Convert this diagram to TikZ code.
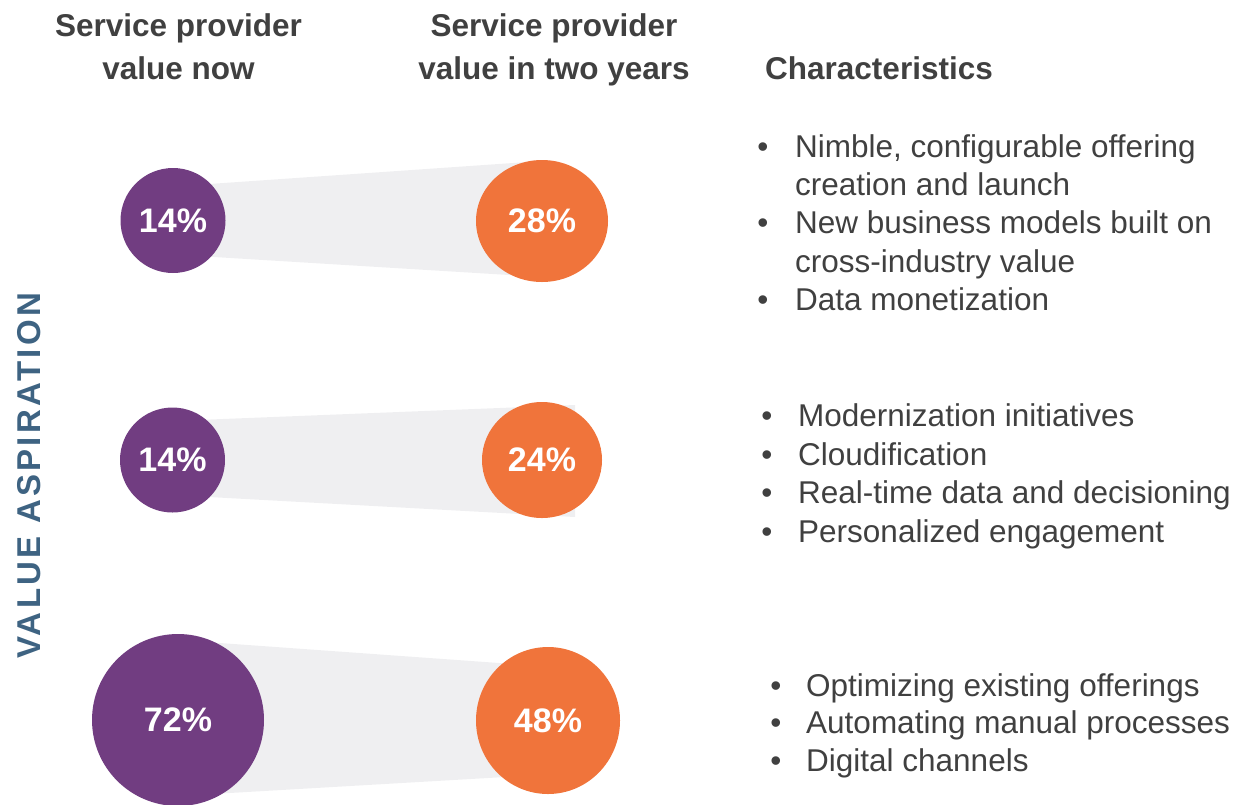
\documentclass[tikz,border=0pt]{standalone}
\usepackage{fontspec}
\setmainfont{Liberation Sans}
\newfontfamily\spacedfont[LetterSpace=10]{Liberation Sans}
\usepackage{tikz}
\usetikzlibrary{positioning,
                    backgrounds,
                    calc,
                    shapes.geometric}
\definecolor{nowpurple}{HTML}{713D81}
\definecolor{laterorange}{HTML}{F0743B}
\definecolor{bandgray}{HTML}{EFEFF1}
\definecolor{textgray}{HTML}{404040}
\definecolor{sideblue}{HTML}{3E6382}

\begin{document}
\begin{tikzpicture}[
            x=1pt,y=-1pt,
            now/.style={
              ellipse,
              fill=nowpurple,
              inner sep=0pt,
              text=white,
              font=\bfseries\fontsize{34}{40}\selectfont
            },
            later/.style={
              now,
              fill=laterorange
            },
            dims/.style 2 args={minimum width=#1,minimum height=#2},
            band/.style={fill=bandgray},
            head/.style={
              anchor=base,
              inner sep=0pt,
              text=textgray,
              font=\bfseries\fontsize{31.5}{38}\selectfont
            },
            item/.style={
              anchor=base west,
              inner sep=0pt,
              text=textgray,
              font=\fontsize{31.5}{38}\selectfont
            },
            dot/.style={item,anchor=base}
            ]
            \useasboundingbox (0,0) rectangle (1238,804);

            \node[head] (h1a) at (178.5,36) {Service provider};
            \node[head] (h1b) at (178.5,79) {value now};
            \node[head] (h2a) at (554,36) {Service provider};
            \node[head] (h2b) at (554,79) {value in two years};
            \node[head,anchor=base west] (h3) at (765,79) {Characteristics};

            \node[now,dims={105pt}{105pt}] (p1) at (173,220.5) {14\%};
            \node[later,dims={132pt}{122pt}] (o1) at (542,221) {28\%};
            \node[now,dims={105pt}{105pt}] (p2) at (172.5,460) {14\%};
            \node[later,dims={120pt}{116pt}] (o2) at (542,460) {24\%};
            \node[now,dims={172pt}{172pt}] (p3) at (178,720) {72\%};
            \node[later,dims={144pt}{147pt}] (o3) at (548,720.5) {48\%};

            \begin{scope}[on background layer]
            \fill[band] ($(p1)+(0,-34)$) -- ($(o1)+(0,-60)$) -- ($(o1)+(0,56)$) -- ($(p1)+(0,34)$) -- cycle;
            \fill[band] ($(p2)+(0,-39)$) -- ($(o2)+(33,-55)$) -- ($(o2)+(33,57)$) -- ($(p2)+(0,35)$) -- cycle;
            \fill[band] ($(p3)+(0,-80)$) -- ($(o3)+(0,-54)$) -- ($(o3)+(0,54)$) -- ($(p3)+(0,76)$) -- cycle;
            \end{scope}

            \node[rotate=90,inner sep=0pt,text=sideblue,font=\spacedfont\bfseries\fontsize{33}{38}\selectfont]
              (va) at (29.5,476) {VALUE ASPIRATION};

            \foreach \yy/\txt/\mark [count=\i] in {157/{Nimble, configurable offering}/1,
                195/{creation and launch}/0, 233.5/{New business models built on}/1,
                272/{cross-industry value}/0, 310/{Data monetization}/1}{
              \node[item] (a\i) at (795,\yy) {\txt};
              \ifnum\mark=1 \node[dot] (ad\i) at (763,\yy) {•}; \fi
            }
            \foreach \yy/\txt [count=\i] in {426/{Modernization initiatives},
                465/{Cloudification}, 503/{Real-time data and decisioning},
                542/{Personalized engagement}}{
              \node[item] (b\i) at (798,\yy) {\txt};
              \node[dot] (bd\i) at (767,\yy) {•};
            }
            \foreach \yy/\txt [count=\i] in {696/{Optimizing existing offerings},
                733/{Automating manual processes}, 771/{Digital channels}}{
              \node[item] (c\i) at (806,\yy) {\txt};
              \node[dot] (cd\i) at (776,\yy) {•};
            }
        \end{tikzpicture}
\end{document}
